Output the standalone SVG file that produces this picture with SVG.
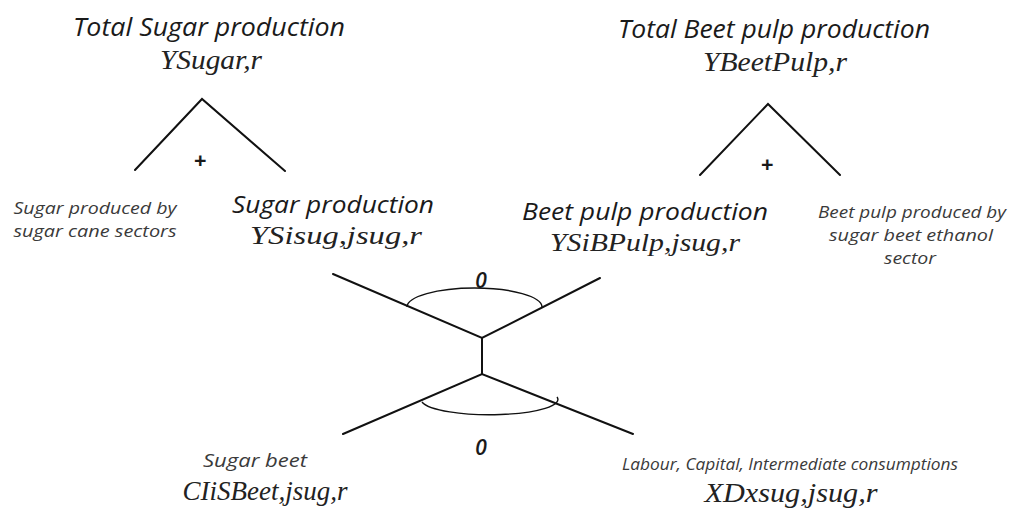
<svg xmlns="http://www.w3.org/2000/svg" width="1016" height="513" viewBox="0 0 1016 513">
<style>
.lbl{font-family:"Open Sans","Liberation Sans",sans-serif;font-style:italic;fill:#1a1a1a;text-anchor:middle}
.sm{font-family:"Open Sans","Liberation Sans",sans-serif;font-style:italic;fill:#3a3a3a;text-anchor:middle}
.var{font-family:"Liberation Serif","DejaVu Serif",serif;font-style:italic;fill:#222;text-anchor:middle}
.ln{stroke:#111;stroke-width:2;fill:none;stroke-linecap:round}
.arc{stroke:#111;stroke-width:1.4;fill:none}
</style>
<rect width="1016" height="513" fill="#fff"/>
<g id="total-sugar">
<text class="lbl" x="209" y="36" font-size="26" textLength="272" lengthAdjust="spacingAndGlyphs">Total Sugar production</text>
<text class="var" x="211" y="69" font-size="27" textLength="102" lengthAdjust="spacingAndGlyphs">YSugar,r</text>
</g>
<g id="total-beetpulp">
<text class="lbl" x="774" y="38" font-size="26" textLength="312" lengthAdjust="spacingAndGlyphs">Total Beet pulp production</text>
<text class="var" x="775" y="71" font-size="27" textLength="144" lengthAdjust="spacingAndGlyphs">YBeetPulp,r</text>
</g>
<g id="sugar-cane">
<text class="sm" x="95" y="214" font-size="17" textLength="163" lengthAdjust="spacingAndGlyphs">Sugar produced by</text>
<text class="sm" x="95" y="237" font-size="17" textLength="163" lengthAdjust="spacingAndGlyphs">sugar cane sectors</text>
</g>
<g id="sugar-production">
<text class="lbl" x="333" y="213" font-size="24" textLength="202" lengthAdjust="spacingAndGlyphs">Sugar production</text>
<text class="var" x="336" y="244" font-size="26" textLength="172" lengthAdjust="spacingAndGlyphs">YSisug,jsug,r</text>
</g>
<g id="beetpulp-production">
<text class="lbl" x="645" y="220" font-size="24" textLength="246" lengthAdjust="spacingAndGlyphs">Beet pulp production</text>
<text class="var" x="645" y="251" font-size="26" textLength="190" lengthAdjust="spacingAndGlyphs">YSiBPulp,jsug,r</text>
</g>
<g id="beetpulp-ethanol">
<text class="sm" x="912" y="218" font-size="17" textLength="188" lengthAdjust="spacingAndGlyphs">Beet pulp produced by</text>
<text class="sm" x="911" y="241" font-size="17" textLength="164" lengthAdjust="spacingAndGlyphs">sugar beet ethanol</text>
<text class="sm" x="910" y="264" font-size="17" textLength="52" lengthAdjust="spacingAndGlyphs">sector</text>
</g>
<g id="sugar-beet">
<text class="sm" x="255" y="467" font-size="18" textLength="104" lengthAdjust="spacingAndGlyphs">Sugar beet</text>
<text class="var" x="265" y="500" font-size="27" textLength="165" lengthAdjust="spacingAndGlyphs">CIiSBeet,jsug,r</text>
</g>
<g id="factors">
<text class="sm" x="790" y="470" font-size="16" textLength="336" lengthAdjust="spacingAndGlyphs">Labour, Capital, Intermediate consumptions</text>
<text class="var" x="791" y="502" font-size="27" textLength="173" lengthAdjust="spacingAndGlyphs">XDxsug,jsug,r</text>
</g>
<g id="connectors">
<polyline class="ln" points="135,170 202,99 285,171"/>
<polyline class="ln" points="700,175 768,104 840,175"/>
<polyline class="ln" points="333,274 482,338 600,278"/>
<line class="ln" x1="482" y1="338" x2="482" y2="374"/>
<polyline class="ln" points="343,434 482,374 633,434"/>
<path class="arc" d="M407,307 A67.5,19 0 0 1 542,307"/>
<path class="arc" d="M422,402 A67.5,15 0 0 0 557,397"/>
<text class="lbl" x="200" y="168" font-size="22" font-weight="bold">+</text>
<text class="lbl" x="767" y="172" font-size="22" font-weight="bold">+</text>
<text class="lbl" x="481" y="288" font-size="21" font-weight="600">0</text>
<text class="lbl" x="481" y="455" font-size="21" font-weight="600">0</text>
</g>
</svg>
